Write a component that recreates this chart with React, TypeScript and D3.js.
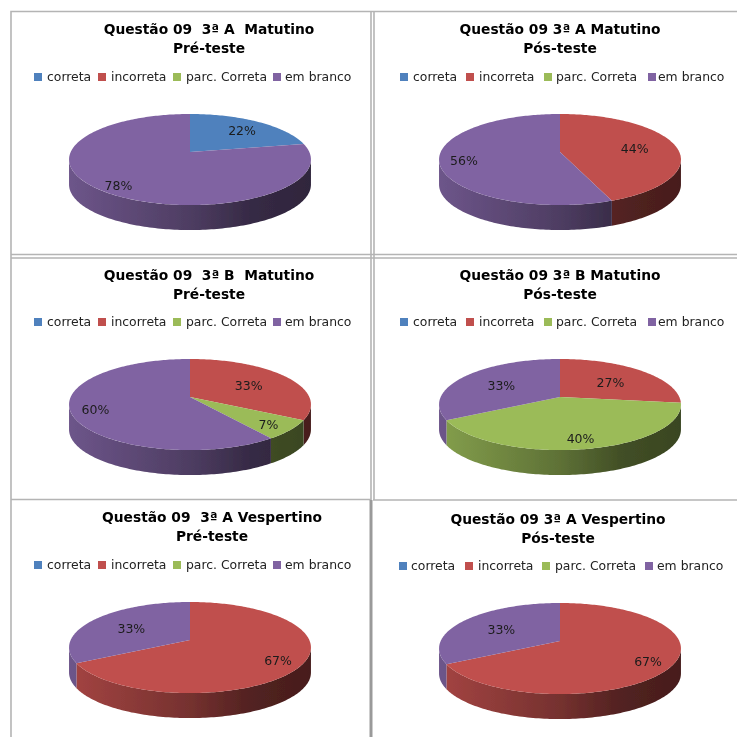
import React from "react";
import * as d3 from "d3";

// one entry per panel, left to right, top to bottom
const titles = [
  "Questão 09  3ª A  Matutino",
  "Questão 09 3ª A Matutino",
  "Questão 09  3ª B  Matutino",
  "Questão 09 3ª B Matutino",
  "Questão 09  3ª A Vespertino",
  "Questão 09 3ª A Vespertino",
];
const subtitles = ["Pré-teste", "Pós-teste", "Pré-teste", "Pós-teste", "Pré-teste", "Pós-teste"];

const categories = ["correta", "incorreta", "parc. Correta", "em branco"];
const correta = [22, 0, 0, 0, 0, 0];
const incorreta = [0, 44, 33, 27, 67, 67];
const parcCorreta = [0, 0, 7, 40, 0, 0];
const emBranco = [78, 56, 60, 33, 33, 33];
const colors = ["#4f81bd", "#c0504d", "#9bbb59", "#8064a2"];

// layout, per panel
const pieCx = [190, 560, 190, 560, 190, 560];
const pieCy = [152, 152, 397, 397, 640, 641];
const titleCx = [209, 560, 209, 560, 212, 558];
const titleY = [34, 34, 280, 280, 522, 524];
const legendY = [77, 77, 322, 322, 565, 566];
const legendLeft = [
  [34, 47, 98, 111, 173, 186, 273, 285],
  [400, 413, 466, 479, 544, 556, 648, 658],
  [34, 47, 98, 111, 173, 186, 273, 285],
  [400, 413, 466, 479, 544, 556, 648, 658],
  [34, 47, 98, 111, 173, 186, 273, 285],
  [399, 411, 465, 478, 542, 555, 645, 657],
];
// how far out along the slice the % label sits, same order as non-empty slices
const labelR = [
  [0.75, 0.84],
  [0.65, 0.8],
  [0.6, 0.8, 0.8],
  [0.6, 0.8, 0.6],
  [0.8, 0.6],
  [0.8, 0.6],
];

const W = 737;
const FONT = "DejaVu Sans";
// perspective of the tilted disc
const k = -0.165;
const hy = 44.3;
const wx = 119.3;
const depth = 25;
const wallFrom = Math.acos(k);
const wallTo = 2 * Math.PI - wallFrom;

const project = (a: number, r = 1): [number, number] => {
  const u = r * Math.sin(a);
  const v = -r * Math.cos(a);
  const d = 1 + k * v;
  return [(u * wx) / d, (v * hy) / d];
};

const arcAngles = (a0: number, a1: number) => {
  const n = Math.max(2, Math.ceil((a1 - a0) / 0.02));
  return d3.range(n + 1).map((i) => a0 + ((a1 - a0) * i) / n);
};

const line = d3.line().curve(d3.curveLinear);

const pieGen = d3
  .pie<number>()
  .sort(null)
  .value((d) => d);

const Panel = ({ i }: { i: number }) => {
  const values = [correta[i], incorreta[i], parcCorreta[i], emBranco[i]];
  const arcs = pieGen(values)
    .map((a, idx) => ({ ...a, idx }))
    .filter((a) => a.value > 0);
  const cx = pieCx[i];
  const cy = pieCy[i];
  return (
    <g>
      <text
        x={titleCx[i]}
        y={titleY[i]}
        textAnchor="middle"
        fontFamily={FONT}
        fontWeight="bold"
        fontSize={13.8}
        fill="#000"
        style={{ whiteSpace: "pre" }}
      >
        {titles[i]}
      </text>
      <text
        x={titleCx[i]}
        y={titleY[i] + 19}
        textAnchor="middle"
        fontFamily={FONT}
        fontWeight="bold"
        fontSize={13.8}
        fill="#000"
      >
        {subtitles[i]}
      </text>
      {categories.map((c, j) => (
        <g key={c}>
          <rect x={legendLeft[i][j * 2]} y={legendY[i] - 4} width={8} height={8} fill={colors[j]} />
          <text x={legendLeft[i][j * 2 + 1]} y={legendY[i] + 4} fontFamily={FONT} fontSize={12.4} fill="#222">
            {c}
          </text>
        </g>
      ))}
      <g transform={`translate(${cx},${cy})`}>
        {arcs.map((a) => {
          const from = Math.max(a.startAngle, wallFrom);
          const to = Math.min(a.endAngle, wallTo);
          if (to <= from) return null;
          const top = arcAngles(from, to).map((t) => project(t));
          const bottom = top.map(([x, y]) => [x, y + depth] as [number, number]).reverse();
          return <path key={a.idx} d={line([...top, ...bottom]) + "Z"} fill={`url(#wall${a.idx}-${i})`} />;
        })}
        {arcs.map((a) => (
          <path
            key={a.idx}
            d={line([[0, 0], ...arcAngles(a.startAngle, a.endAngle).map((t) => project(t))]) + "Z"}
            fill={colors[a.idx]}
          />
        ))}
        {arcs.map((a, n) => {
          const [x, y] = project((a.startAngle + a.endAngle) / 2, labelR[i][n]);
          return (
            <text key={a.idx} x={x} y={y + 6} textAnchor="middle" fontFamily={FONT} fontSize={12.5} fill="#1c1c1c">
              {d3.format(".0f")(a.value)}%
            </text>
          );
        })}
      </g>
      <defs>
        {colors.map((c, j) => (
          <linearGradient key={c} id={`wall${j}-${i}`} gradientUnits="userSpaceOnUse" x1={-121} x2={121} y1={0} y2={0}>
            <stop offset="0" stopColor={d3.rgb(c).darker(0.45).formatHex()} />
            <stop offset="0.5" stopColor={d3.rgb(c).darker(1.4).formatHex()} />
            <stop offset="0.75" stopColor={d3.rgb(c).darker(2.4).formatHex()} />
            <stop offset="1" stopColor={d3.rgb(c).darker(2.8).formatHex()} />
          </linearGradient>
        ))}
      </defs>
    </g>
  );
};

export default function App() {
  return (
    <svg width={W} height={W} style={{ position: "absolute", left: 0, top: 0, display: "block" }}>
      <defs>
        <filter id="soft" x="-5%" y="-5%" width="110%" height="110%">
          <feGaussianBlur stdDeviation="0.4" />
        </filter>
      </defs>
      <rect width={W} height={W} fill="#fff" />
      <g stroke="#b4b4b4" strokeWidth={1.6} fill="none">
        <path d="M737,11.5H11V737" />
        <path d="M371,11.5V500M374,11.5V500" />
        <path d="M11,254.5H737M11,258H737" />
        <path d="M11,499.5H371M373,500H737" />
      </g>
      <path d="M371,500V737" stroke="#9a9a9a" strokeWidth={3} />
      <g filter="url(#soft)">
        {titles.map((_, i) => (
          <Panel key={i} i={i} />
        ))}
      </g>
    </svg>
  );
}
